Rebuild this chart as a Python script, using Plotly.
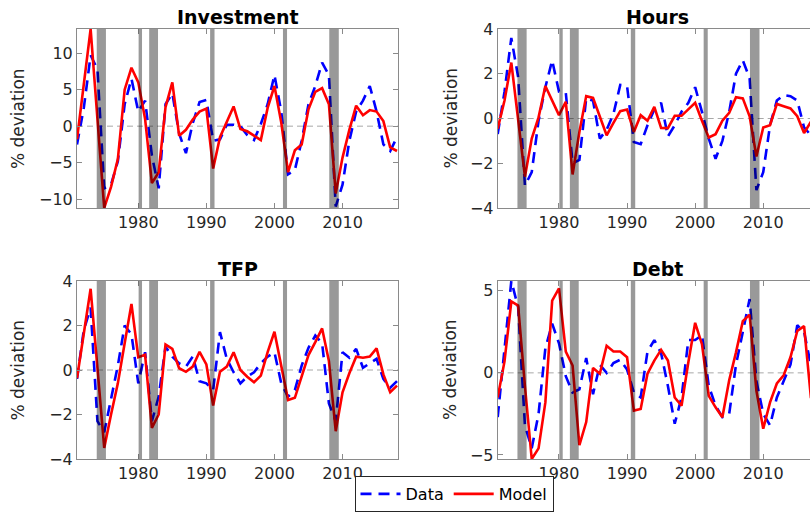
import plotly.graph_objects as go
from plotly.subplots import make_subplots

years = list(range(1971, 2019))

inv_data = [-2.5, 2.5, 9.7, 7.8, -8.5, -8.0, -4.8, 3.0, 6.5, 2.0,
            3.5, -4.0, -8.5, 3.0, 4.5, -1.0, -3.7, 0.4, 3.3, 3.6,
            -2.0, -1.8, 0.2, 0.2, 0.0, -1.2, -1.9, 0.3, 3.0, 7.0,
            2.0, -6.6, -6.0, -2.0, 3.0, 5.5, 8.7, 7.0, -11.0, -8.0,
            -2.0, 2.0, 3.5, 5.5, 2.0, -2.5, -3.4, -1.5]
inv_model = [-1.8, 5.5, 13.3, 1.0, -11.2, -8.3, -4.5, 5.0, 8.0, 6.0,
             1.0, -7.8, -6.3, 2.6, 6.0, -1.3, -0.5, 0.9, 2.0, 2.4,
             -5.8, -1.5, 0.5, 2.7, -0.4, -0.7, -1.3, -1.9, 2.5, 5.5,
             0.5, -6.3, -3.3, -2.5, 2.3, 4.7, 5.2, 3.0, -9.2, -4.3,
             -0.5, 2.8, 1.5, 2.2, 2.0, 0.7, -2.9, -3.4]

hrs_data = [-0.7, 1.2, 3.6, 1.85, -3.0, -2.4, -0.1, 1.4, 2.6, 1.2,
            1.15, -2.0, -1.85, 0.9, 0.8, -0.9, -0.5, 0.2, 1.5, 1.45,
            -1.05, -1.15, -0.3, 0.4, 0.7, -0.8, -0.3, 0.3, 0.7, 1.4,
            0.3, -0.9, -1.8, -1.0, 0.3, 2.0, 2.6, 1.8, -3.2, -2.4,
            -0.3, 0.8, 1.05, 1.0, 0.8, -0.4, -0.75, -0.5]
hrs_model = [-0.45, 0.8, 2.5, 0.0, -2.6, -0.9, 0.05, 1.45, 0.8, 0.15,
             0.75, -2.5, -0.6, 1.0, 0.92, 0.1, -0.75, -0.2, 0.33, 0.4,
             -0.6, 0.15, -0.1, 0.52, -0.42, -0.43, 0.12, 0.12, 0.4, 0.7,
             -0.1, -0.85, -0.7, -0.1, 0.25, 0.95, 0.9, 0.1, -1.7, -0.4,
             -0.3, 0.65, 0.55, 0.45, 0.1, -0.65, -0.15, -0.4]

tfp_data = [-0.4, 1.8, 2.8, -2.3, -2.8, -1.3, 0.2, 2.0, 1.6, -0.6,
            0.8, -2.3, -1.2, 1.05, 0.6, 0.3, 0.15, 0.6, -0.5, -0.6,
            -0.9, 1.7, 0.5, -0.1, -0.6, -0.3, -0.1, 0.3, 0.6, 0.8,
            -0.6, -1.2, -0.9, 0.2, 1.0, 1.55, 1.2, -1.5, -2.3, 0.8,
            0.55, 0.95, 0.1, 0.3, 0.5, -0.4, -0.8, -0.5]
tfp_model = [-0.37, 1.6, 3.65, 0.1, -3.5, -2.0, -0.6, 1.2, 2.97, 0.57,
             0.68, -2.6, -2.0, 1.15, 0.95, 0.08, -0.08, 0.15, 0.82, 0.25,
             -1.6, -0.08, 0.15, 0.8, 0.0, -0.3, -0.55, -0.25, 0.8, 1.72,
             0.1, -1.35, -1.25, -0.3, 0.67, 1.25, 1.87, 0.4, -2.75, -1.0,
             -0.15, 0.6, 0.55, 0.6, 0.97, -0.2, -1.0, -0.7]

debt_data = [-2.7, 1.5, 5.6, 4.0, -3.2, -4.6, -2.5, 1.5, 3.0, 1.8,
             -0.2, -1.2, -1.0, 0.9, -1.3, 0.5, 0.0, 0.6, 0.8, 0.2,
             -1.2, -1.5, 1.3, 2.0, 1.2, -0.8, -3.1, -1.5, 2.0, 2.0,
             2.3, -0.8, -2.0, -2.7, -2.5, 0.5, 2.5, 4.5, -0.5, -2.5,
             -3.2, -1.5, -0.5, 0.5, 2.9, 2.5, 0.45, -0.5]
debt_model = [-1.5, 0.7, 4.35, 4.1, -0.8, -5.25, -4.6, -1.8, 4.4, 5.15,
              1.3, 0.45, -4.4, -3.0, 0.3, -0.05, 1.65, 1.3, 1.3, 0.95,
              -2.3, -2.2, -0.05, 0.75, 1.4, 0.75, -1.5, -2.0, 0.65, 3.05,
              1.75, -1.4, -2.1, -2.7, -0.45, 1.25, 3.15, 3.55, -1.1, -3.4,
              -1.8, -0.65, -0.15, 0.95, 2.55, 2.85, -1.5, -2.0]

titles = ["Investment", "Hours", "TFP", "Debt"]
recession_start = [1973.9, 1980.05, 1981.6, 1990.55, 2001.25, 2008.05]
recession_end = [1975.25, 1980.55, 1982.9, 1991.2, 2001.85, 2009.45]
xtick_vals = [1980, 1990, 2000, 2010]

W, H = 810, 514
FONT = "DejaVu Sans"
TXT = "#262626"
AX = "#8a8a8a"

panels = [
    dict(title="Investment", data=inv_data, model=inv_model, row=1, col=1,
         yr=[-11.2, 13.3], yt=[-10, -5, 0, 5, 10]),
    dict(title="Hours", data=hrs_data, model=hrs_model, row=1, col=2,
         yr=[-4, 4], yt=[-4, -2, 0, 2, 4]),
    dict(title="TFP", data=tfp_data, model=tfp_model, row=2, col=1,
         yr=[-4, 4], yt=[-4, -2, 0, 2, 4]),
    dict(title="Debt", data=debt_data, model=debt_model, row=2, col=2,
         yr=[-5.25, 5.6], yt=[-5, 0, 5]),
]

# pixel layout
x_dom_px = {1: (77, 398), 2: (497.7, 810)}
y_dom_px = {1: (29, 208), 2: (281, 459)}
full_w = 320.0

fig = make_subplots(rows=2, cols=2)

shapes = []
annotations = []
for i, p in enumerate(panels):
    n = i + 1
    sfx = "" if n == 1 else str(n)
    r, c = p["row"], p["col"]
    first = (n == 1)
    fig.add_trace(go.Scatter(x=years, y=p["data"], mode="lines", name="Data",
                             line=dict(color="rgb(0,0,255)", width=2.6, dash="11px,7px"),
                             showlegend=first, legendrank=1), row=r, col=c)
    fig.add_trace(go.Scatter(x=years, y=p["model"], mode="lines", name="Model",
                             line=dict(color="rgb(255,0,0)", width=2.6),
                             showlegend=first, legendrank=2), row=r, col=c)
    x0p, x1p = x_dom_px[c]
    y0p, y1p = y_dom_px[r]
    xr_end = 1971 + (x1p - x0p) / full_w * 47
    fig.update_xaxes(domain=[x0p / W, x1p / W], range=[1971, xr_end],
                     tickvals=xtick_vals, ticks="inside", ticklen=5, tickcolor=AX,
                     showline=True, linecolor=AX, linewidth=1, mirror="allticks",
                     showgrid=False, zeroline=False,
                     tickfont=dict(family=FONT, size=16, color=TXT),
                     row=r, col=c)
    fig.update_yaxes(domain=[1 - y1p / H, 1 - y0p / H], range=p["yr"],
                     tickvals=p["yt"], ticks="inside", ticklen=5, tickcolor=AX,
                     showline=True, linecolor=AX, linewidth=1,
                     mirror=("allticks" if c == 1 else False),
                     showgrid=False, zeroline=False,
                     tickfont=dict(family=FONT, size=16, color=TXT),
                     row=r, col=c)
    # zero line
    shapes.append(dict(type="line", xref=f"x{sfx} domain", yref=f"y{sfx}",
                       x0=0, x1=1, y0=0, y1=0,
                       line=dict(color="#a8a8a8", width=1, dash="6px,4px"),
                       layer="below"))
    # recession bands
    for s, e in zip(recession_start, recession_end):
        shapes.append(dict(type="rect", xref=f"x{sfx}", yref=f"y{sfx} domain",
                           x0=s, x1=e, y0=0, y1=1,
                           fillcolor="rgba(0,0,0,0.4)", line=dict(width=0),
                           layer="above"))
    # title
    cx = (x0p + (x0p + full_w)) / 2 if c == 2 else (x0p + x1p) / 2
    annotations.append(dict(text=f"<b>{p['title']}</b>", xref="paper", yref="paper",
                            x=cx / W, y=1 - (y0p - 12) / H, xanchor="center", yanchor="middle",
                            showarrow=False, font=dict(family=FONT, size=19, color="#000000")))
    # y label
    lx = 17.5 if c == 1 else 450
    annotations.append(dict(text="% deviation", xref="paper", yref="paper",
                            x=lx / W, y=1 - ((y0p + y1p) / 2) / H, textangle=-90,
                            xanchor="center", yanchor="middle", showarrow=False,
                            font=dict(family=FONT, size=17, color=TXT)))

fig.update_layout(
    width=W, height=H,
    margin=dict(l=0, r=0, t=0, b=0, autoexpand=False),
    paper_bgcolor="white", plot_bgcolor="white",
    shapes=shapes, annotations=annotations,
    showlegend=True,
    legend=dict(orientation="h", x=454 / W, y=2 / H,
                xanchor="center", yanchor="bottom",
                bordercolor="#262626", borderwidth=1, bgcolor="white",
                font=dict(family=FONT, size=16, color="#000000"),
                itemwidth=40, tracegroupgap=0),
)

fig.write_html("out.html")
